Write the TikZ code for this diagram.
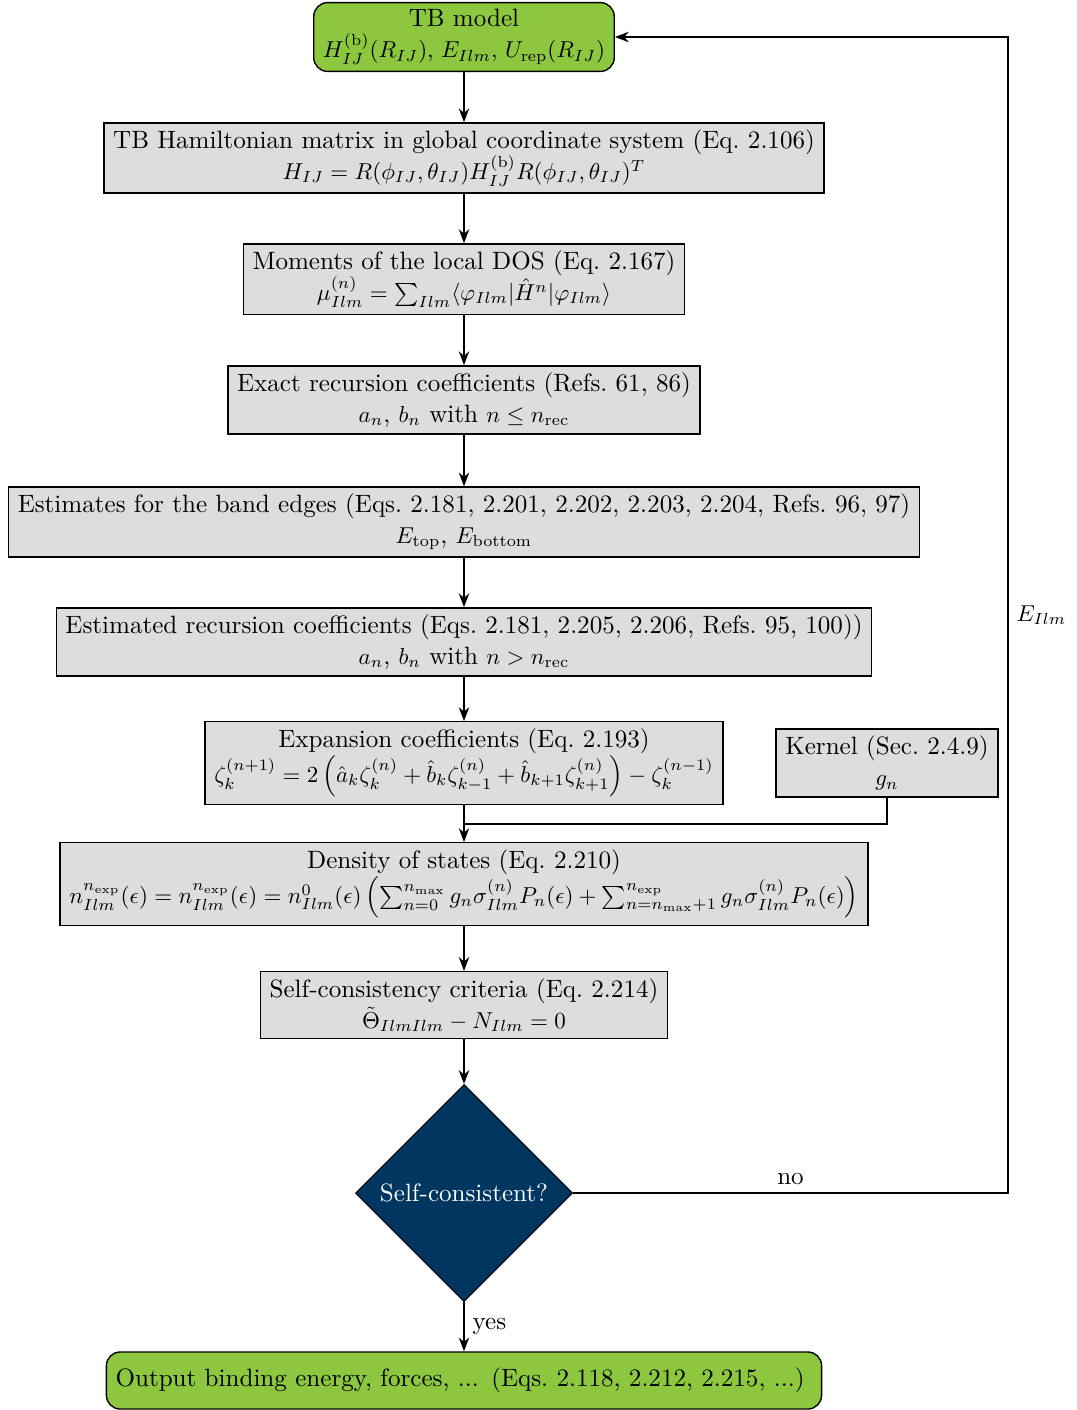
\documentclass[tikz,border=0pt]{standalone}
\usetikzlibrary{shapes.geometric,arrows.meta}
\usepackage{amsmath}
\definecolor{tbgreen}{RGB}{141,198,63}
\definecolor{boxgray}{RGB}{221,221,221}
\definecolor{navyblue}{RGB}{0,54,96}
\newcommand{\mth}[1]{{\fontsize{10.45pt}{13pt}\selectfont$#1$}}
\begin{document}
\begin{tikzpicture}[x=0.4348pt,y=-0.4348pt,
 font=\fontsize{10.9pt}{13.4pt}\selectfont,
 box/.style={draw=black, fill=boxgray, align=center, semithick, inner xsep=4pt, inner ysep=3pt},
 gbox/.style={draw=black, fill=tbgreen, rounded corners=6pt, align=center, semithick, inner xsep=4pt, inner ysep=3pt},
 dec/.style={diamond, draw=black, fill=navyblue, text=white, minimum width=94.4pt, minimum height=94.4pt, inner sep=0pt, aspect=1},
 arr/.style={-{Stealth[length=6pt,width=4.5pt]}, thick},
 ln/.style={thick}]
\useasboundingbox (0,0) rectangle (1077,1410);

\node[gbox] (tb) at (464,37) {TB model\\ \mth{H^{(\mathrm{b})}_{IJ}(R_{IJ}),\,E_{Ilm},\,U_{\mathrm{rep}}(R_{IJ})}};
\node[box] (b2) at (464,158) {TB Hamiltonian matrix in global coordinate system (Eq.~2.106)\\ \mth{H_{IJ}=R(\phi_{IJ},\theta_{IJ})H^{(\mathrm{b})}_{IJ}R(\phi_{IJ},\theta_{IJ})^T}};
\node[box] (b3) at (464,279) {Moments of the local DOS (Eq.~2.167)\\ \mth{\mu^{(n)}_{Ilm}=\sum_{Ilm}\langle\varphi_{Ilm}|\hat{H}^n|\varphi_{Ilm}\rangle}};
\node[box] (b4) at (464,400) {Exact recursion coefficients (Refs.~61, 86)\\ \mth{a_n}, \mth{b_n} with \mth{n\leq n_{\mathrm{rec}}}};
\node[box] (b5) at (464,522) {Estimates for the band edges (Eqs.~2.181, 2.201, 2.202, 2.203, 2.204, Refs.~96, 97)\\ \mth{E_{\mathrm{top}}}, \mth{E_{\mathrm{bottom}}}};
\node[box] (b6) at (464,642) {Estimated recursion coefficients (Eqs.~2.181, 2.205, 2.206, Refs.~95, 100))\\ \mth{a_n}, \mth{b_n} with \mth{n>n_{\mathrm{rec}}}};
\node[box] (b7) at (464,763) {Expansion coefficients (Eq.~2.193)\\ \mth{\zeta^{(n+1)}_k=2\left(\hat{a}_k\zeta^{(n)}_k+\hat{b}_k\zeta^{(n)}_{k-1}+\hat{b}_{k+1}\zeta^{(n)}_{k+1}\right)-\zeta^{(n-1)}_k}};
\node[box] (ker) at (887,763) {Kernel (Sec.~2.4.9)\\ \mth{g_n}};
\node[box] (b8) at (464,884) {Density of states (Eq.~2.210)\\ \mth{n^{n_{\mathrm{exp}}}_{Ilm}(\epsilon)=n^{n_{\mathrm{exp}}}_{Ilm}(\epsilon)=n^0_{Ilm}(\epsilon)\left(\sum_{n=0}^{n_{\mathrm{max}}}g_n\sigma^{(n)}_{Ilm}P_n(\epsilon)+\sum_{n=n_{\mathrm{max}}+1}^{n_{\mathrm{exp}}}g_n\sigma^{(n)}_{Ilm}P_n(\epsilon)\right)}};
\node[box] (b9) at (464,1005) {Self-consistency criteria (Eq.~2.214)\\ \mth{\tilde{\Theta}_{IlmIlm}-N_{Ilm}=0}};
\node[dec] (dec) at (464,1193) {Self-consistent?};
\node[gbox, align=left, text width=303pt, minimum height=24.8pt] (out) at (464,1380.5) {Output binding energy, forces, ... (Eqs.~2.118, 2.212, 2.215, ...)};

\coordinate (j) at (464,824);
\coordinate (fb) at (1008,0);

\draw[arr] (tb) -- (b2);
\draw[arr] (b2) -- (b3);
\draw[arr] (b3) -- (b4);
\draw[arr] (b4) -- (b5);
\draw[arr] (b5) -- (b6);
\draw[arr] (b6) -- (b7);
\draw[arr] (b7) -- (b8);
\draw[ln] (ker.south) |- (j);
\draw[arr] (b8) -- (b9);
\draw[arr] (b9) -- (dec);
\draw[arr] (dec) -- node[right]{yes} (out);
\draw[arr] (dec.east) -- node[above]{no} (dec.east -| fb) -- node[right]{\mth{E_{Ilm}}} (tb.east -| fb) -- (tb.east);
\end{tikzpicture}
\end{document}
